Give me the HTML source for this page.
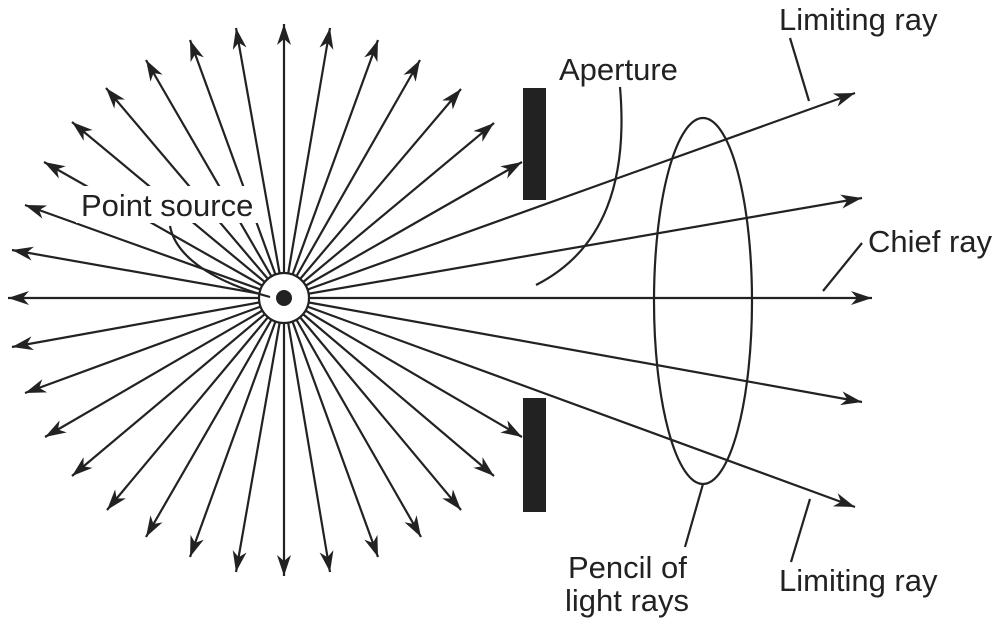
<!DOCTYPE html>
<html><head><meta charset="utf-8"><style>
html,body{margin:0;padding:0;background:#fff;}
svg{display:block;}
text{font-family:"Liberation Sans",sans-serif;font-size:31px;fill:#222;}
</style></head><body>
<svg width="1000" height="629" viewBox="0 0 1000 629" xmlns="http://www.w3.org/2000/svg">
<defs>
<marker id="a" markerWidth="22" markerHeight="16" refX="21" refY="7" orient="auto" markerUnits="userSpaceOnUse">
<path d="M21,7 L0,0 L6,7 L0,14 Z" fill="#222"/>
</marker>
</defs>
<g stroke="#222" stroke-width="2.2" fill="none" marker-end="url(#a)">
<line x1="284" y1="298" x2="8" y2="298"/>
<line x1="284" y1="298" x2="12" y2="250"/>
<line x1="284" y1="298" x2="25" y2="205"/>
<line x1="284" y1="298" x2="44" y2="162"/>
<line x1="284" y1="298" x2="72" y2="122"/>
<line x1="284" y1="298" x2="106" y2="88"/>
<line x1="284" y1="298" x2="146" y2="60"/>
<line x1="284" y1="298" x2="190" y2="40"/>
<line x1="284" y1="298" x2="236" y2="28"/>
<line x1="284" y1="298" x2="284" y2="24"/>
<line x1="284" y1="298" x2="330" y2="28"/>
<line x1="284" y1="298" x2="378" y2="40"/>
<line x1="284" y1="298" x2="420" y2="60"/>
<line x1="284" y1="298" x2="461" y2="89"/>
<line x1="284" y1="298" x2="494" y2="123"/>
<line x1="284" y1="298" x2="522" y2="162"/>
<line x1="284" y1="298" x2="12" y2="347"/>
<line x1="284" y1="298" x2="25" y2="393"/>
<line x1="284" y1="298" x2="45" y2="437"/>
<line x1="284" y1="298" x2="72" y2="476"/>
<line x1="284" y1="298" x2="107" y2="510"/>
<line x1="284" y1="298" x2="146" y2="537"/>
<line x1="284" y1="298" x2="190" y2="557"/>
<line x1="284" y1="298" x2="236" y2="572"/>
<line x1="284" y1="298" x2="284" y2="576"/>
<line x1="284" y1="298" x2="330" y2="572"/>
<line x1="284" y1="298" x2="378" y2="557"/>
<line x1="284" y1="298" x2="421" y2="537"/>
<line x1="284" y1="298" x2="461" y2="510"/>
<line x1="284" y1="298" x2="494" y2="476"/>
<line x1="284" y1="298" x2="522" y2="437"/>
<line x1="284" y1="298" x2="855" y2="93"/>
<line x1="284" y1="298" x2="862" y2="198"/>
<line x1="284" y1="298" x2="872" y2="298"/>
<line x1="284" y1="298" x2="862" y2="402"/>
<line x1="284" y1="298" x2="855" y2="507"/>
</g>
<rect x="76" y="186" width="184" height="37" fill="#fff"/>
<circle cx="284" cy="298" r="25" fill="#fff" stroke="#222" stroke-width="2.2"/>
<circle cx="284" cy="298" r="8" fill="#222"/>
<rect x="523" y="88" width="23" height="112" fill="#222"/>
<rect x="523" y="398" width="23" height="114" fill="#222"/>
<ellipse cx="703" cy="301" rx="49" ry="183" fill="none" stroke="#222" stroke-width="2.2"/>
<g stroke="#222" stroke-width="2.2" fill="none">
<path d="M170,226 C176,258 215,282 270,297"/>
<path d="M620,87 C628,180 605,250 536,285"/>
<line x1="790" y1="38" x2="809" y2="101"/>
<line x1="823" y1="291" x2="862" y2="243"/>
<line x1="703" y1="484" x2="685" y2="547"/>
<line x1="810" y1="499" x2="791" y2="562"/>
</g>
<text x="81" y="216">Point source</text>
<text x="559" y="80">Aperture</text>
<text x="779" y="30">Limiting ray</text>
<text x="868" y="252">Chief ray</text>
<text x="568" y="578">Pencil of</text>
<text x="565" y="611">light rays</text>
<text x="779" y="591">Limiting ray</text>
</svg>
</body></html>
